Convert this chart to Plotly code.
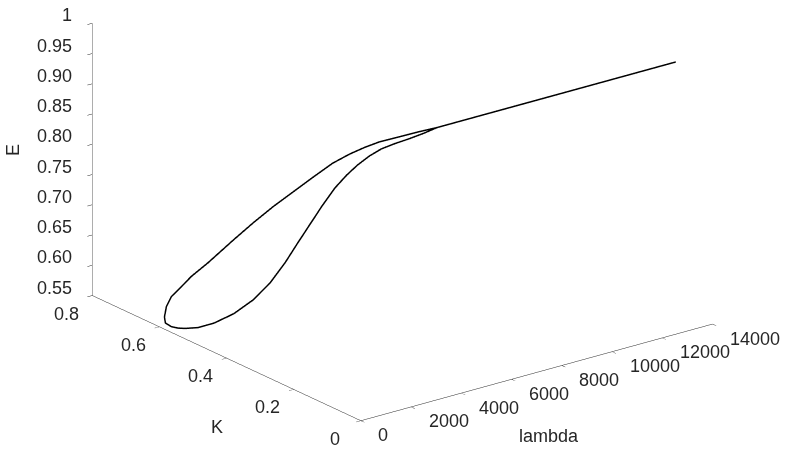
import plotly.graph_objects as go

# ---- data (lambda, K, E) ----
upper_lambda = [0, 25, 89, 178, 343, 558, 888, 1142, 1396, 1650, 1904, 2157, 2373, 2563, 2754, 3008, 3261, 3490, 5000, 7000, 9000, 11000, 13000]
upper_K = [0.585, 0.581, 0.571, 0.557, 0.531, 0.497, 0.445, 0.405, 0.365, 0.325, 0.285, 0.245, 0.211, 0.181, 0.151, 0.111, 0.071, 0.035, 0.035, 0.035, 0.035, 0.035, 0.035]
upper_E = [0.5701, 0.5879, 0.6063, 0.6201, 0.6470, 0.6761, 0.7240, 0.7598, 0.7938, 0.8254, 0.8570, 0.8878, 0.9091, 0.9256, 0.9404, 0.9562, 0.9721, 0.9856, 0.9856, 0.9856, 0.9856, 0.9856, 0.9856]

lower_lambda = [0, 13, 89, 178, 266, 431, 635, 888, 1142, 1358, 1548, 1713, 1865, 2018, 2183, 2335, 2475, 2627, 2779, 2944, 3134, 3325, 3490, 5000, 7000, 9000, 11000, 13000]
lower_K = [0.585, 0.583, 0.571, 0.557, 0.543, 0.517, 0.485, 0.445, 0.405, 0.371, 0.341, 0.315, 0.291, 0.267, 0.241, 0.217, 0.195, 0.171, 0.147, 0.121, 0.091, 0.061, 0.035, 0.035, 0.035, 0.035, 0.035, 0.035]
lower_E = [0.5701, 0.5605, 0.5567, 0.5569, 0.5590, 0.5653, 0.5786, 0.6016, 0.6324, 0.6670, 0.7057, 0.7438, 0.7781, 0.8125, 0.8472, 0.8732, 0.8940, 0.9134, 0.9295, 0.9428, 0.9567, 0.9715, 0.9856, 0.9856, 0.9856, 0.9856, 0.9856, 0.9856]

lambda_ticks = [0, 2000, 4000, 6000, 8000, 10000, 12000, 14000]
lambda_labels = ["0", "2000", "4000", "6000", "8000", "10000", "12000", "14000"]
K_ticks = [0, 0.2, 0.4, 0.6, 0.8]
K_labels = ["0", "0.2", "0.4", "0.6", "0.8"]
E_ticks = [0.55, 0.60, 0.65, 0.70, 0.75, 0.80, 0.85, 0.90, 0.95, 1.0]
E_labels = ["0.55", "0.60", "0.65", "0.70", "0.75", "0.80", "0.85", "0.90", "0.95", "1"]

L_RANGE = [0, 14000]
K_RANGE = [0, 0.8]
E_RANGE = [0.55, 1.0]

FONT = "Liberation Sans, Arial, sans-serif"
TXT = "#262626"
tfont = dict(family=FONT, size=18, color=TXT)

fig = go.Figure()
for L, K, E in [(upper_lambda, upper_K, upper_E), (lower_lambda, lower_K, lower_E)]:
    fig.add_trace(go.Scatter3d(x=L, y=K, z=E, mode="lines",
                               line=dict(color="black", width=3),
                               hoverinfo="skip", showlegend=False))

def ax(rng, tv):
    return dict(title=dict(text=""), range=rng, tickvals=tv,
                showticklabels=False,
                showbackground=False, showgrid=False, zeroline=False,
                showline=True, linecolor=TXT, linewidth=1,
                ticks="outside", ticklen=6, tickcolor=TXT, tickwidth=1,
                showspikes=False, autorange=False)

def inside(v, rng):
    # keep annotation anchors a hair inside the axis range so none is culled
    span = rng[1] - rng[0]
    return min(max(v, rng[0] + 1e-6 * span), rng[1] - 1e-6 * span)

ann = []
# lambda tick labels (front edge K=0, E=min)
for v, t in zip(lambda_ticks, lambda_labels):
    ann.append(dict(x=inside(v, L_RANGE), y=K_RANGE[0], z=E_RANGE[0], text=t, showarrow=False,
                    xanchor="left", yanchor="middle", xshift=15.5, yshift=-14.5, font=tfont))
# K tick labels (front edge lambda=0, E=min)
for v, t in zip(K_ticks, K_labels):
    ann.append(dict(x=L_RANGE[0], y=inside(v, K_RANGE), z=E_RANGE[0], text=t, showarrow=False,
                    xanchor="center", yanchor="middle", xshift=-26, yshift=-18, font=tfont))
# E tick labels (vertical edge lambda=0, K=max)
for v, t in zip(E_ticks, E_labels):
    ann.append(dict(x=L_RANGE[0], y=inside(K_RANGE[1], K_RANGE), z=inside(v, E_RANGE), text=t,
                    showarrow=False, xanchor="right", yanchor="middle", xshift=-18.5, yshift=8,
                    font=tfont))
# axis titles
ann.append(dict(x=7000, y=K_RANGE[0], z=E_RANGE[0], text="lambda", showarrow=False,
                xanchor="center", yanchor="middle", xshift=12.5, yshift=-63.5, font=tfont))
ann.append(dict(x=L_RANGE[0], y=0.4, z=E_RANGE[0], text="K", showarrow=False,
                xanchor="center", yanchor="middle", xshift=-10, yshift=-69, font=tfont))
ann.append(dict(x=L_RANGE[0], y=inside(K_RANGE[1], K_RANGE), z=0.775, text="E", showarrow=False,
                textangle=-90, xanchor="center", yanchor="middle", xshift=-78.5, yshift=9,
                font=tfont))

d = 3.0
view = (-0.569, -0.741, 0.358)
c = (-0.0834, -0.0404, -0.2162)
fig.update_layout(
    width=786, height=452,
    margin=dict(l=0, r=0, t=0, b=0),
    paper_bgcolor="white",
    scene=dict(
        xaxis=ax(L_RANGE, lambda_ticks),
        yaxis=ax(K_RANGE, K_ticks),
        zaxis=ax(E_RANGE, E_ticks),
        aspectmode="manual",
        aspectratio=dict(x=1.962, y=1.952, z=1.29),
        camera=dict(eye=dict(x=c[0] + view[0] * d, y=c[1] + view[1] * d, z=c[2] + view[2] * d),
                    center=dict(x=c[0], y=c[1], z=c[2]),
                    up=dict(x=0, y=0, z=1),
                    projection=dict(type="orthographic")),
        domain=dict(x=[0, 1], y=[0, 1]),
        annotations=ann,
    ),
)

fig.write_html("out.html", config={"displayModeBar": False})
